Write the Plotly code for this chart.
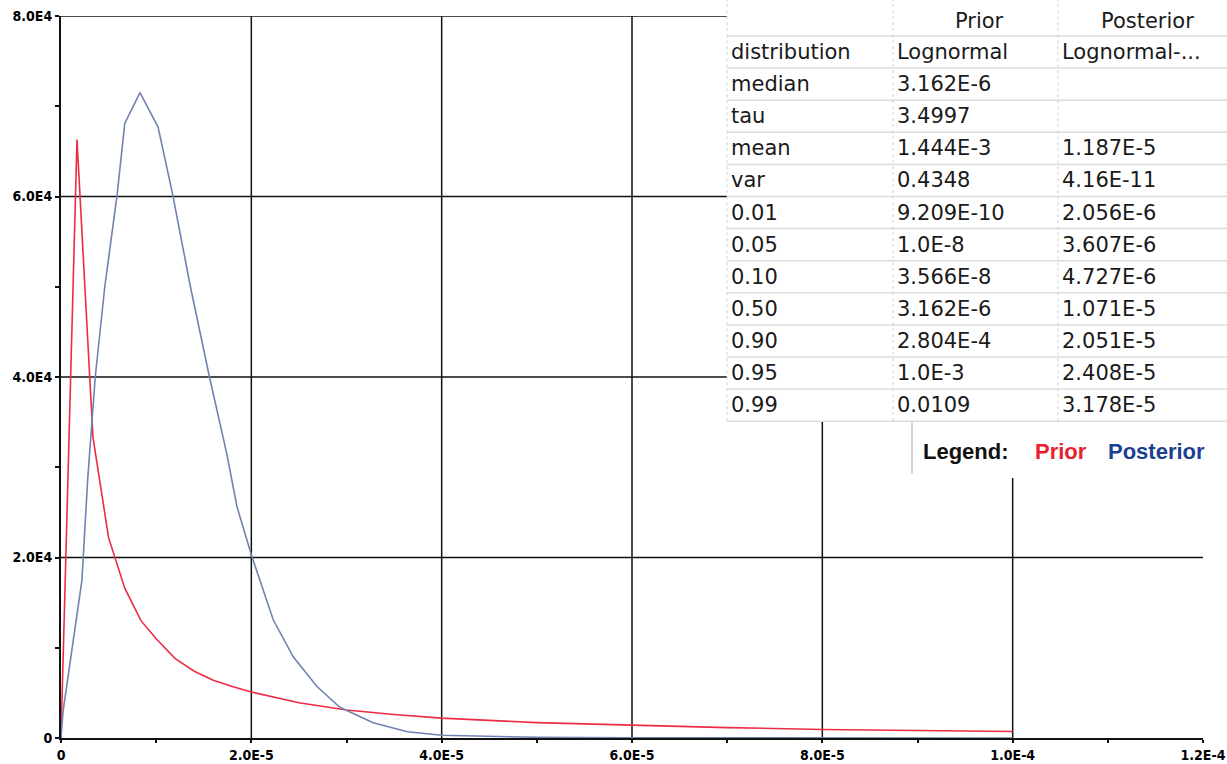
import plotly.graph_objects as go

# ---------------- data ----------------
prior_x = [0, 1.68e-6, 3.36e-6, 5.0e-6, 6.7e-6, 8.4e-6, 1.0e-5, 1.2e-5, 1.4e-5, 1.6e-5,
           1.8e-5, 2.0e-5, 2.5e-5, 3.0e-5, 3.5e-5, 4.0e-5, 5.0e-5, 6.0e-5, 7.0e-5,
           8.0e-5, 9.0e-5, 1.0e-4]
prior_y = [0, 66300, 33300, 22200, 16600, 13000, 11000, 8800, 7400, 6400,
           5700, 5100, 3900, 3100, 2600, 2200, 1700, 1400, 1150,
           950, 820, 720]

posterior_x = [0, 2.1e-7, 2.2e-6, 2.8e-6, 3.6e-6, 4.6e-6, 5.9e-6, 6.7e-6, 8.3e-6,
               1.02e-5, 1.17e-5, 1.36e-5, 1.56e-5, 1.74e-5, 1.85e-5, 2.0e-5, 2.23e-5,
               2.44e-5, 2.69e-5, 2.93e-5, 3.28e-5, 3.64e-5, 4.0e-5, 5.0e-5, 6.0e-5,
               8.0e-5, 1.0e-4]
posterior_y = [0, 2900, 17500, 28600, 40000, 50000, 60200, 68100, 71500,
               67700, 60400, 50000, 40000, 31600, 25600, 20300, 13100,
               9000, 5700, 3400, 1700, 700, 300, 80, 20,
               0, 0]

x_tickvals = [0, 2e-5, 4e-5, 6e-5, 8e-5, 1e-4, 1.2e-4]
x_ticktext = ["0", "2.0E-5", "4.0E-5", "6.0E-5", "8.0E-5", "1.0E-4", "1.2E-4"]
y_tickvals = [0, 2e4, 4e4, 6e4, 8e4]
y_ticktext = ["0", "2.0E4", "4.0E4", "6.0E4", "8.0E4"]
x_minor = [1e-5, 3e-5, 5e-5, 7e-5, 9e-5, 1.1e-4]
y_minor = [1e4, 3e4, 5e4, 7e4]
x_grid = [2e-5, 4e-5, 6e-5, 8e-5, 1e-4]
y_grid = [2e4, 4e4, 6e4, 8e4]

table_header = ["", "Prior", "Posterior"]
row_labels = ["distribution", "median", "tau", "mean", "var", "0.01", "0.05",
              "0.10", "0.50", "0.90", "0.95", "0.99"]
prior_col = ["Lognormal", "3.162E-6", "3.4997", "1.444E-3", "0.4348", "9.209E-10",
             "1.0E-8", "3.566E-8", "3.162E-6", "2.804E-4", "1.0E-3", "0.0109"]
posterior_col = ["Lognormal-...", "", "", "1.187E-5", "4.16E-11", "2.056E-6",
                 "3.607E-6", "4.727E-6", "1.071E-5", "2.051E-5", "2.408E-5", "3.178E-5"]

legend_title = "Legend:"
series_names = ["Prior", "Posterior"]

# ---------------- styling ----------------
W, H = 1227, 764
PL, PR, PT, PB = 61, 1203, 16, 738  # plot area in screen pixels
ML, MT = PL, PT
MR, MB = W - PR, H - PB
PW, PH = PR - PL, PB - PT

PRIOR_C = "#ec2c44"
POST_C = "#7282b4"
LEG_PRIOR_C = "#e8202c"
LEG_POST_C = "#1c3f8f"
TICK_FONT = dict(family="Liberation Sans Narrow, DejaVu Sans Condensed, Arial Narrow, sans-serif",
                 size=14, color="#000000", weight="bold")
TABLE_FONT = dict(family="DejaVu Sans, Verdana, sans-serif", size=21, color="#1a1a1a")


def px(x):
    return (x - PL) / PW


def py(y):
    return (PB - y) / PH


fig = go.Figure()
fig.add_trace(go.Scatter(x=prior_x, y=prior_y, mode="lines", name=series_names[0],
                         line=dict(color=PRIOR_C, width=1.6)))
fig.add_trace(go.Scatter(x=posterior_x, y=posterior_y, mode="lines", name=series_names[1],
                         line=dict(color=POST_C, width=1.6)))

shapes = []
# grid lines
for gx in x_grid:
    shapes.append(dict(type="line", xref="x", yref="y", x0=gx, x1=gx, y0=0, y1=8e4,
                       line=dict(color="#111111", width=1.5), layer="below"))
for gy in y_grid:
    shapes.append(dict(type="line", xref="x", yref="y", x0=0, x1=1.2e-4, y0=gy, y1=gy,
                       line=dict(color="#111111", width=1.5), layer="below"))

# table box
T_LEFT, T_RIGHT, T_TOP = 727, 1240, -10
HEADER_BOTTOM = 36
ROW_H = 32.1
n_rows = len(row_labels)
T_BOTTOM = HEADER_BOTTOM + ROW_H * n_rows
COL2, COL3 = 893, 1058
shapes.append(dict(type="rect", xref="paper", yref="paper", x0=px(T_LEFT), x1=px(T_RIGHT),
                   y0=py(T_BOTTOM), y1=py(T_TOP), fillcolor="white",
                   line=dict(width=0), layer="above"))
# legend box
L_LEFT, L_BOTTOM = 912, 478
shapes.append(dict(type="rect", xref="paper", yref="paper", x0=px(L_LEFT), x1=px(T_RIGHT),
                   y0=py(L_BOTTOM), y1=py(T_BOTTOM), fillcolor="white",
                   line=dict(width=0), layer="above"))
shapes.append(dict(type="line", xref="paper", yref="paper", x0=px(L_LEFT), x1=px(L_LEFT),
                   y0=py(L_BOTTOM - 4), y1=py(T_BOTTOM), line=dict(color="#c8c8c8", width=1.5),
                   layer="above"))
# table row lines
for i in range(n_rows + 1):
    yy = HEADER_BOTTOM + ROW_H * i
    shapes.append(dict(type="line", xref="paper", yref="paper", x0=px(T_LEFT), x1=px(T_RIGHT),
                       y0=py(yy), y1=py(yy), line=dict(color="#dcdcdc", width=1.5),
                       layer="above"))
# column dividers
for cx in (T_LEFT, COL2, COL3):
    shapes.append(dict(type="line", xref="paper", yref="paper", x0=px(cx), x1=px(cx),
                       y0=py(T_BOTTOM), y1=py(0), line=dict(color="#d0d0d0", width=1, dash="dot"),
                       layer="above"))

annotations = []
# header
header_centers = [None, 979, 1147]
for txt, cx in zip(table_header, header_centers):
    if cx is None or not txt:
        continue
    annotations.append(dict(text=txt, xref="paper", yref="paper", x=px(cx), y=py(21),
                            xanchor="center", yanchor="middle", showarrow=False, font=TABLE_FONT))
col_lefts = [729, 895, 1060]
for i in range(n_rows):
    yc = HEADER_BOTTOM + ROW_H * i + ROW_H / 2
    for col, cx in zip((row_labels, prior_col, posterior_col), col_lefts):
        if col[i]:
            annotations.append(dict(text=col[i], xref="paper", yref="paper", x=px(cx), y=py(yc),
                                    xanchor="left", yanchor="middle", showarrow=False,
                                    font=TABLE_FONT))
# legend text
LEG_FONT = dict(family="Liberation Sans, Arial, sans-serif", size=22, weight="bold")
leg_y = 451
annotations.append(dict(text=legend_title, xref="paper", yref="paper", x=px(921), y=py(leg_y),
                        xanchor="left", yanchor="middle", showarrow=False,
                        font=dict(LEG_FONT, color="#111111")))
for name, lx, c in zip(series_names, (1033, 1106), (LEG_PRIOR_C, LEG_POST_C)):
    annotations.append(dict(text=name, xref="paper", yref="paper", x=px(lx), y=py(leg_y),
                            xanchor="left", yanchor="middle", showarrow=False,
                            font=dict(LEG_FONT, color=c)))

fig.update_layout(
    width=W, height=H,
    margin=dict(l=ML, r=MR, t=MT, b=MB, pad=0, autoexpand=False),
    paper_bgcolor="white", plot_bgcolor="white",
    showlegend=False,
    shapes=shapes, annotations=annotations,
    xaxis=dict(range=[0, 1.2e-4], tickmode="array", tickvals=x_tickvals, ticktext=x_ticktext,
               automargin=False, ticklabeloverflow="allow",
               showgrid=False, zeroline=False, showline=True, linecolor="#111111", linewidth=2,
               ticks="outside", ticklen=3, tickwidth=1.5, tickcolor="#111111",
               tickfont=TICK_FONT,
               minor=dict(tickmode="array", tickvals=x_minor, ticks="outside", ticklen=3,
                          tickwidth=1.5, tickcolor="#111111", showgrid=False)),
    yaxis=dict(range=[0, 8e4], tickmode="array", tickvals=y_tickvals, ticktext=y_ticktext,
               automargin=False, ticklabeloverflow="allow",
               showgrid=False, zeroline=False, showline=True, linecolor="#111111", linewidth=2,
               ticks="outside", ticklen=4, tickwidth=1.5, tickcolor="#111111",
               tickfont=TICK_FONT,
               minor=dict(tickmode="array", tickvals=y_minor, ticks="outside", ticklen=4,
                          tickwidth=1.5, tickcolor="#111111", showgrid=False)),
)

# remove the browser's default 8px body margin so the figure fills the window exactly
fig.write_html("out.html",
               config={"displayModeBar": False},
               post_script="document.body.style.margin='0';document.body.style.overflow='hidden';")
